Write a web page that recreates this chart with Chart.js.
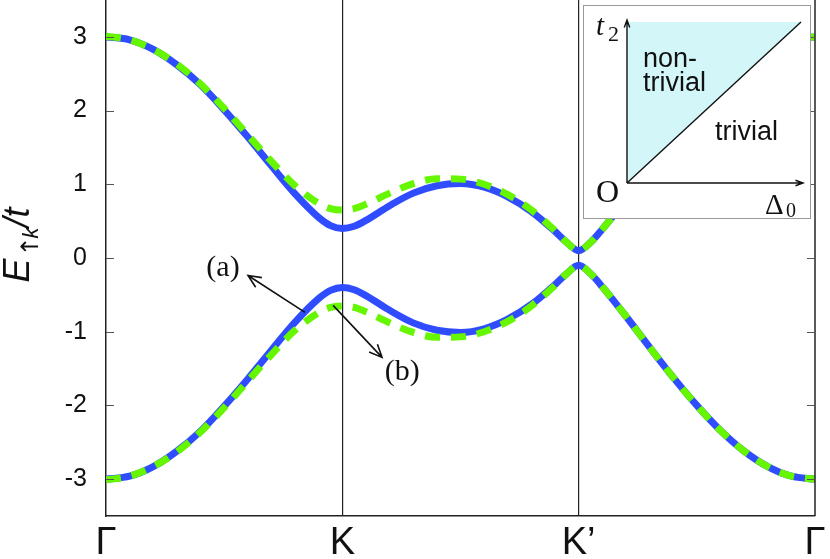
<!DOCTYPE html>
<html><head><meta charset="utf-8">
<script src="https://cdn.jsdelivr.net/npm/chart.js@4.4.1/dist/chart.umd.min.js"></script>
<style>html,body{margin:0;padding:0;background:#fff;}canvas{display:block;}</style>
</head><body>
<canvas id="c" width="830" height="559"></canvas>
<script>
// k-path positions (Γ=0, K=1, K'=2, Γ=3)
const kPath = [0,0.1,0.2,0.3,0.4,0.5,0.6,0.7,0.8,0.9,0.95,1.0,
  1.05,1.1,1.2,1.3,1.4,1.5,1.6,1.7,1.8,1.9,1.95,2.0,
  2.05,2.1,2.2,2.3,2.4,2.5,2.6,2.7,2.8,2.9,3.0];
const kTickPos = [0,1,2,3];
const kLabels = ['Γ','K','K’','Γ'];
const yTicks = [-3,-2,-1,0,1,2,3];

// (a) solid blue bands
const bandA_upper = [3.00,2.96,2.83,2.62,2.35,2.01,1.64,1.25,0.87,0.55,0.44,0.40,
  0.43,0.51,0.71,0.88,0.98,1.01,0.96,0.83,0.63,0.36,0.21,0.10,
  0.21,0.39,0.79,1.21,1.62,2.00,2.34,2.62,2.83,2.96,3.00];
const bandA_lower = [-3.00,-2.96,-2.83,-2.62,-2.35,-2.01,-1.64,-1.25,-0.87,-0.55,-0.44,-0.40,
  -0.43,-0.51,-0.71,-0.88,-0.98,-1.01,-0.96,-0.83,-0.63,-0.36,-0.21,-0.10,
  -0.21,-0.39,-0.79,-1.21,-1.62,-2.00,-2.34,-2.62,-2.83,-2.96,-3.00];
// (b) dashed green bands
const bandB_upper = [3.01,2.96,2.83,2.63,2.36,2.03,1.67,1.31,0.98,0.74,0.67,0.65,
  0.67,0.73,0.88,1.01,1.075,1.07,1.00,0.86,0.65,0.37,0.21,0.10,
  0.21,0.39,0.79,1.21,1.62,2.00,2.34,2.62,2.83,2.96,3.00];
const bandB_lower = [-3.01,-2.96,-2.83,-2.63,-2.36,-2.03,-1.67,-1.31,-0.98,-0.74,-0.67,-0.65,
  -0.67,-0.73,-0.88,-1.01,-1.075,-1.07,-1.00,-0.86,-0.65,-0.37,-0.21,-0.10,
  -0.21,-0.39,-0.79,-1.21,-1.62,-2.00,-2.34,-2.62,-2.83,-2.96,-3.00];

// annotation anchors (data units)
const arrowA = [[0.842,-0.738],[0.601,-0.237]];
const arrowB = [[0.961,-0.643],[1.168,-1.348]];
const labelA = ['(a)',0.495,-0.14];
const labelB = ['(b)',1.253,-1.55];

const BLUE = '#2f4dff', GREEN = '#66f700';
const pts = arr => arr.map((v,i)=>({x:kPath[i], y:v}));

function arrow(ctx,x1,y1,x2,y2,L,w){
  const ang=Math.atan2(y2-y1,x2-x1);
  ctx.beginPath(); ctx.moveTo(x1,y1); ctx.lineTo(x2,y2);
  ctx.moveTo(x2-L*Math.cos(ang-w), y2-L*Math.sin(ang-w));
  ctx.lineTo(x2,y2);
  ctx.lineTo(x2-L*Math.cos(ang+w), y2-L*Math.sin(ang+w));
  ctx.stroke();
}

const decor = {
  id:'decor',
  afterDatasetsDraw(chart){
    const {ctx, chartArea:a, scales:{x,y}} = chart;
    ctx.save();
    // right frame
    ctx.strokeStyle='#222'; ctx.lineWidth=1.5;
    ctx.beginPath(); ctx.moveTo(a.right,a.top); ctx.lineTo(a.right,a.bottom); ctx.stroke();
    // inner ticks
    ctx.strokeStyle='#555'; ctx.lineWidth=1;
    yTicks.forEach(v=>{
      const py=Math.round(y.getPixelForValue(v))+0.5;
      ctx.beginPath(); ctx.moveTo(a.left,py); ctx.lineTo(a.left+8,py);
      ctx.moveTo(a.right,py); ctx.lineTo(a.right-8,py); ctx.stroke();
    });
    // annotation arrows
    ctx.strokeStyle='#111'; ctx.lineWidth=1.6;
    [arrowA,arrowB].forEach(ar=>{
      arrow(ctx,x.getPixelForValue(ar[0][0]),y.getPixelForValue(ar[0][1]),
        x.getPixelForValue(ar[1][0]),y.getPixelForValue(ar[1][1]),14,0.42);
    });
    ctx.fillStyle='#111'; ctx.font='30px "Liberation Serif"';
    ctx.textAlign='center'; ctx.textBaseline='middle';
    [labelA,labelB].forEach(l=>ctx.fillText(l[0],x.getPixelForValue(l[1]),y.getPixelForValue(l[2])));

    // inset phase diagram
    const L0=583.5, R0=810.5, T0=5.5, B0=218.5;
    ctx.fillStyle='#fff'; ctx.fillRect(L0,T0,R0-L0,B0-T0);
    ctx.strokeStyle='#999'; ctx.lineWidth=1; ctx.strokeRect(L0,T0,R0-L0,B0-T0);
    const ox=627, oy=183, tx=801, ty=22;
    ctx.fillStyle='#d3f7f9';
    ctx.beginPath(); ctx.moveTo(ox,oy); ctx.lineTo(ox,ty); ctx.lineTo(tx,ty); ctx.closePath(); ctx.fill();
    ctx.strokeStyle='#111'; ctx.lineWidth=1.4;
    ctx.beginPath(); ctx.moveTo(ox,oy); ctx.lineTo(tx,ty); ctx.stroke();
    arrow(ctx,ox,oy,ox,20,8,0.35);
    arrow(ctx,ox,oy,803,oy,8,0.35);
    ctx.fillStyle='#111'; ctx.textAlign='left'; ctx.textBaseline='alphabetic';
    ctx.font='italic 29px "Liberation Serif"'; ctx.fillText('t',596,35);
    ctx.font='22px "Liberation Serif"'; ctx.fillText('2',608,41);
    ctx.font='27px "Liberation Sans"';
    ctx.fillText('non-',643,67); ctx.fillText('trivial',643,91);
    ctx.fillText('trivial',715,140);
    ctx.font='32px "Liberation Serif"'; ctx.fillText('O',596,202);
    ctx.font='29px "Liberation Serif"'; ctx.fillText('Δ',765,214);
    ctx.font='20px "Liberation Serif"'; ctx.fillText('0',786,217);
    ctx.restore();
  },
  afterDraw(chart){
    const ctx=chart.ctx;
    ctx.save();
    ctx.fillStyle='#111';
    ctx.translate(29,0); ctx.rotate(-Math.PI/2);
    const fM='italic 36px "Liberation Sans"', fS='24px "DejaVu Sans"', fSI='italic 22px "Liberation Sans"';
    ctx.font=fM; const wE=ctx.measureText('E').width, wT=ctx.measureText('/t').width;
    ctx.font=fS; const wA=ctx.measureText('↑').width;
    ctx.font=fSI; const wK=ctx.measureText('k').width;
    const total=wE+2+wA+wK+wT;
    let p=-244-total/2;
    ctx.textBaseline='alphabetic'; ctx.textAlign='left';
    ctx.font=fM; ctx.fillText('E',p,0); p+=wE+2;
    ctx.font=fS; ctx.fillText('↑',p,9); p+=wA-2;
    ctx.font=fSI; ctx.fillText('k',p,9); p+=wK;
    ctx.font=fM; ctx.fillText('/t',p,0);
    ctx.restore();
  }
};

new Chart(document.getElementById('c'),{
  type:'line',
  data:{datasets:[
    {data:pts(bandB_upper),borderColor:GREEN,borderWidth:7,borderDash:[15,11]},
    {data:pts(bandB_lower),borderColor:GREEN,borderWidth:7,borderDash:[15,11]},
    {data:pts(bandA_upper),borderColor:BLUE,borderWidth:7},
    {data:pts(bandA_lower),borderColor:BLUE,borderWidth:7}
  ].map(d=>Object.assign(d,{pointRadius:0,fill:false,cubicInterpolationMode:'monotone',borderCapStyle:'butt'}))},
  options:{
    responsive:false, animation:false,
    layout:{padding:{left:0,right:15,top:0,bottom:0}},
    plugins:{legend:{display:false},tooltip:{enabled:false}},
    scales:{
      x:{type:'linear',min:0,max:3,
        afterBuildTicks:s=>{s.ticks=kTickPos.map(v=>({value:v}));},
        afterFit:s=>{s.height=43; s.paddingLeft=0; s.paddingRight=0;},
        ticks:{callback:(v)=>kLabels[kTickPos.indexOf(v)],font:{family:'Liberation Sans',size:38},color:'#111',padding:5,maxRotation:0,autoSkip:false},
        grid:{drawTicks:false,color:c=>(c.tick&&(c.tick.value===1||c.tick.value===2))?'#222':'rgba(0,0,0,0)',lineWidth:1.2},
        border:{display:true,color:'#222',width:1.5}
      },
      y:{type:'linear',min:-3.5,max:3.5,
        afterBuildTicks:s=>{s.ticks=yTicks.map(v=>({value:v}));},
        afterFit:s=>{s.width=106; s.paddingTop=0; s.paddingBottom=0;},
        ticks:{callback:v=>String(v),font:{family:'Liberation Sans',size:25},color:'#111',padding:19},
        grid:{display:true,drawOnChartArea:false,drawTicks:false},
        border:{display:true,color:'#222',width:1.5}
      }
    }
  },
  plugins:[decor]
});
</script>
</body></html>
